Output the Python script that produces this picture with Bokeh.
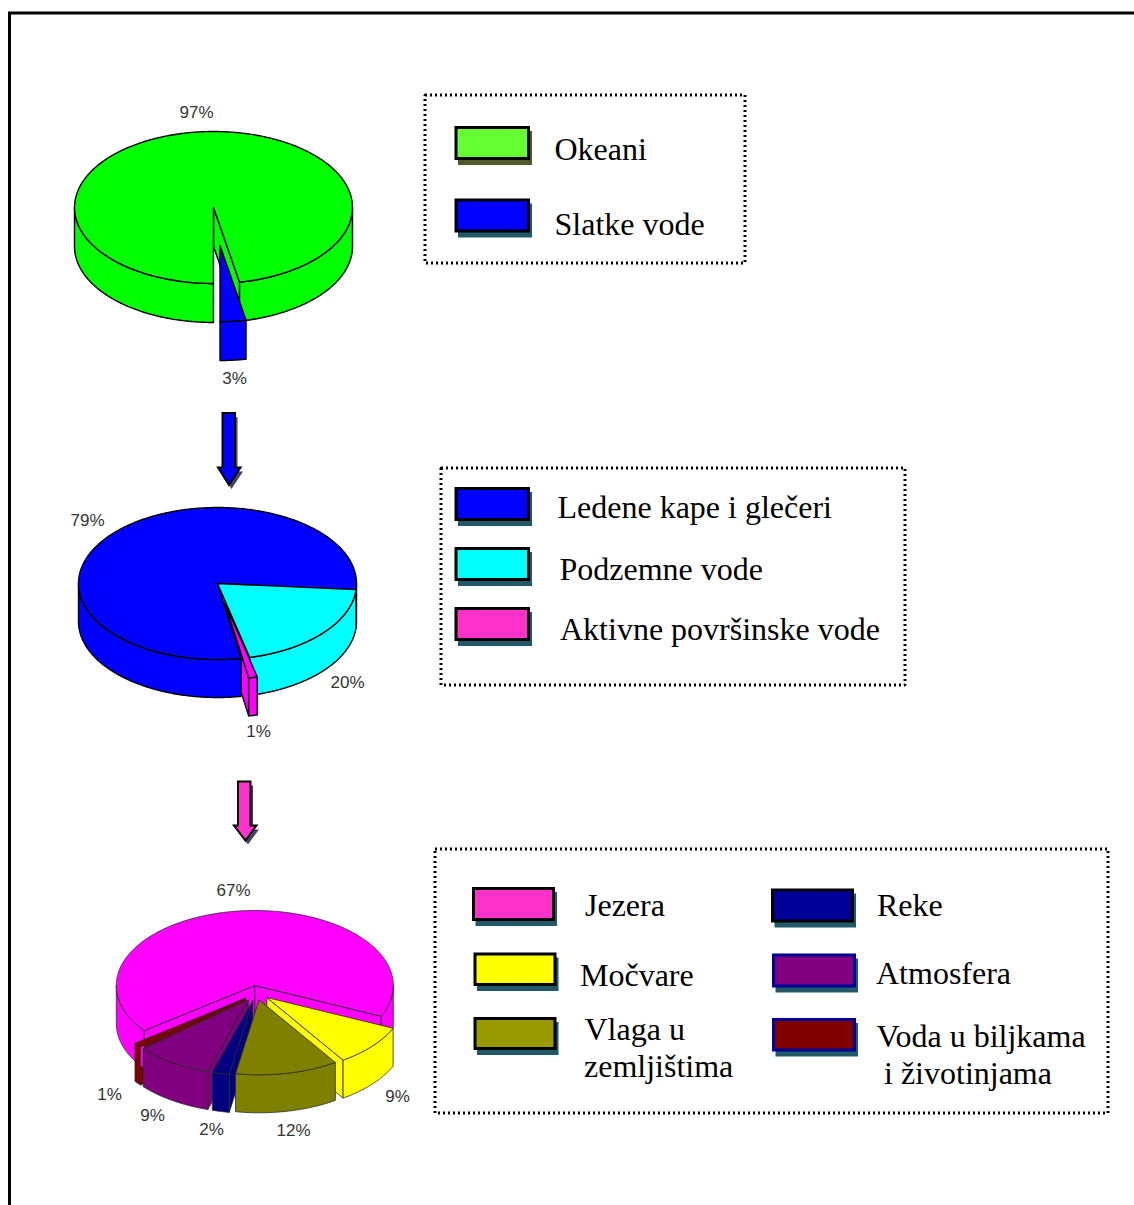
import numpy as np
from bokeh.core.properties import value
from bokeh.embed import file_html
from bokeh.models import ColumnDataSource, Range1d
from bokeh.plotting import figure
from bokeh.resources import INLINE

# Shares of each pie, in percent, clockwise from the start angle
ocean_names = ["Slatke vode", "Okeani"]
ocean_shares = [3, 97]
fresh_names = ["Podzemne vode", "Aktivne površinske vode", "Ledene kape i glečeri"]
fresh_shares = [20, 1, 79]
surface_names = ["Močvare", "Vlaga u zemljištima", "Reke", "Atmosfera", "Voda u biljkama i životinjama", "Jezera"]
surface_shares = [9, 12, 2, 9, 1, 67]

ocean_colors = ["#0000FF", "#00FF00"]
fresh_colors = ["#00FFFF", "#FF00FF", "#0000FF"]
surface_colors = ["#FFFF00", "#808000", "#000080", "#800080", "#800000", "#FF00FF"]

# Screen offset of each pulled-out slice
ocean_offsets = [(6.5, 38), (0, 0)]
fresh_offsets = [(0, 0), (7.5, 19.5), (0, 0)]
surface_offsets = [(12, 12), (4.3, 14.3), (-2, 15), (-6.5, 14.3), (-9.2, 12.7), (0, 0)]


def arc(cx, cy, rx, ry, t0, t1, dy=0.0):
    n = max(2, int(abs(t1 - t0) * 1.5) + 2)
    t = np.radians(np.linspace(t0, t1, n))
    return list(cx + rx * np.cos(t)), list(cy + ry * np.sin(t) + dy)


def draw_pie(p, shares, colors, offsets, start, order, cx, cy, rx, ry, depth, line, lw):
    """Draw a tilted pie in three passes: cut faces, outer rims, top faces."""
    edges = start + np.concatenate([[0], np.cumsum(shares)]) * 3.6
    style = dict(line_color=line, line_width=lw, line_join="round")
    # cut faces turned towards the viewer
    for i in order:
        t0, t1 = edges[i], edges[i + 1]
        x0, y0 = cx + offsets[i][0], cy + offsets[i][1]
        for t, visible in ((t0, np.cos(np.radians(t0)) < -1e-6), (t1, np.cos(np.radians(t1)) > 1e-6)):
            if visible:
                ex = x0 + rx * np.cos(np.radians(t))
                ey = y0 + ry * np.sin(np.radians(t))
                p.patch([x0, ex, ex, x0], [y0, ey, ey + depth, y0 + depth], fill_color=colors[i], **style)
    # outer rim, only the half of the circle that faces front
    for i in order:
        t0, t1 = edges[i], edges[i + 1]
        x0, y0 = cx + offsets[i][0], cy + offsets[i][1]
        for k in (0, 360):
            a, b = max(t0, k), min(t1, k + 180)
            if b > a:
                ax, ay = arc(x0, y0, rx, ry, a, b)
                bx, by = arc(x0, y0, rx, ry, b, a, depth)
                p.patch(ax + bx, ay + by, fill_color=colors[i], **style)
    for i in order:
        x0, y0 = cx + offsets[i][0], cy + offsets[i][1]
        ax, ay = arc(x0, y0, rx, ry, edges[i], edges[i + 1])
        p.patch([x0] + ax, [y0] + ay, fill_color=colors[i], **style)


p = figure(width=1134, height=1205, output_backend="svg", toolbar_location=None,
           x_axis_type=None, y_axis_type=None, min_border=0,
           x_range=Range1d(0, 1134), y_range=Range1d(1205, 0))
p.grid.visible = False
p.outline_line_color = None
p.background_fill_color = "white"
p.border_fill_color = "white"

# Page frame running off the right and bottom edges
p.line([9, 9, 1140], [1210, 12.5, 12.5], line_color="black", line_width=3, line_join="miter")

draw_pie(p, ocean_shares, ocean_colors, ocean_offsets, 79.2, [1, 0],
         213, 207, 139, 76, 39, "black", 1.4)
draw_pie(p, fresh_shares, fresh_colors, fresh_offsets, 4.6, [2, 0, 1],
         217, 583, 139, 76, 38, "black", 1.4)
draw_pie(p, surface_shares, surface_colors, surface_offsets, 24.2, [5, 0, 4, 3, 2, 1],
         254.3, 985, 138.5, 75, 38, "#2a2a2a", 0.8)

# Percentage labels beside the pies
pct_x = [196, 234, 87, 347, 258, 233, 109, 152, 211, 293, 397]
pct_y = [112, 378, 520, 682, 731, 890, 1094, 1115, 1129, 1130, 1096]
pct_text = [f"{v}%" for v in (ocean_shares[1], ocean_shares[0], fresh_shares[2], fresh_shares[0],
                              fresh_shares[1], surface_shares[5], surface_shares[4], surface_shares[3],
                              surface_shares[2], surface_shares[1], surface_shares[0])]
p.text(x=pct_x, y=pct_y, text=pct_text, text_font=value("Liberation Sans"), text_font_size="17px",
       text_color="#333333", text_align="center", text_baseline="middle")


# Block arrows leading from one pie to the next
def block_arrow(x0, x1, top, shoulder, tip_l, tip_r, apex_x, apex_y, fill):
    xs = [x0, x1, x1, tip_r, apex_x, tip_l, x0]
    ys = [top, top, shoulder, shoulder, apex_y, shoulder, shoulder]
    p.patch([x + 2.5 for x in xs], [y + 4 for y in ys], fill_color="#4a4368", line_color=None)
    p.patch(xs, ys, fill_color=fill, line_color="black", line_width=2, line_join="miter")


block_arrow(222, 234.5, 412.5, 467, 217.5, 240, 228.5, 484.5, "#0000FF")
block_arrow(237.5, 250, 781, 825, 233.5, 256, 245, 840, "#FF33CC")

# Dotted legend boxes
box_left = [424.5, 440.5, 434.5]
box_right = [744.5, 904.5, 1107.5]
box_top = [94.5, 467.5, 848.5]
box_bottom = [262.5, 684.5, 1112.5]
p.quad(left=box_left, right=box_right, top=box_top, bottom=box_bottom, fill_color=None,
       line_color="black", line_width=3, line_dash="2 3")

# Legend swatches with their drop shadows
sw_left = [454, 454, 454, 454, 454, 471.5, 473, 473, 770.5, 771.5, 771.5]
sw_right = [529.5, 529.5, 529.5, 529.5, 529.5, 554.5, 556, 556, 853.5, 855.5, 855.5]
sw_top = [125.5, 198, 486.5, 546.5, 606.5, 886.5, 952, 1016.5, 888, 953, 1017.5]
sw_bottom = [159.5, 232, 520.5, 580.5, 640.5, 920.5, 985.5, 1049.5, 922, 987, 1051]
sw_fill = ["#66FF33", "#0000FF", "#0000FF", "#00FFFF", "#FF33CC", "#FF33CC",
           "#FFFF00", "#999900", "#000099", "#800080", "#800000"]
sw_line = ["black"] * 9 + ["#000099", "#000099"]
sw_shadow = ["#4F5A28"] + ["#215968"] * 10

sw = ColumnDataSource(dict(
    left=[v + 1.5 for v in sw_left], right=[v - 1.5 for v in sw_right],
    top=[v + 1.5 for v in sw_top], bottom=[v - 1.5 for v in sw_bottom],
    fill=sw_fill, line=sw_line,
    sl=[v + 3.5 for v in sw_left], sr=[v + 2 for v in sw_right],
    st=[v + 5 for v in sw_top], sb=[v + 5 for v in sw_bottom], shadow=sw_shadow,
))
p.quad(left="sl", right="sr", top="st", bottom="sb", fill_color="shadow", line_color=None, source=sw)
p.quad(left="left", right="right", top="top", bottom="bottom", fill_color="fill",
       line_color="line", line_width=3, line_join="miter", source=sw)

# Legend captions
leg_text = ["Okeani", "Slatke vode", "Ledene kape i glečeri", "Podzemne vode", "Aktivne površinske vode",
            "Jezera", "Močvare", "Vlaga u", "zemljištima", "Reke", "Atmosfera", "Voda u biljkama",
            "i životinjama"]
leg_x = [554, 554, 557, 559, 559.5, 584.5, 579.5, 584, 583.5, 876.5, 875.5, 876, 883.5]
leg_y = [148.5, 223, 506, 568, 628, 904, 974, 1028, 1065, 904, 972, 1035, 1072]
p.text(x=leg_x, y=leg_y, text=leg_text, text_font=value("Liberation Serif"), text_font_size="32px",
       text_color="black", text_align="left", text_baseline="alphabetic")

open("out.html", "w").write(file_html(p, INLINE))
